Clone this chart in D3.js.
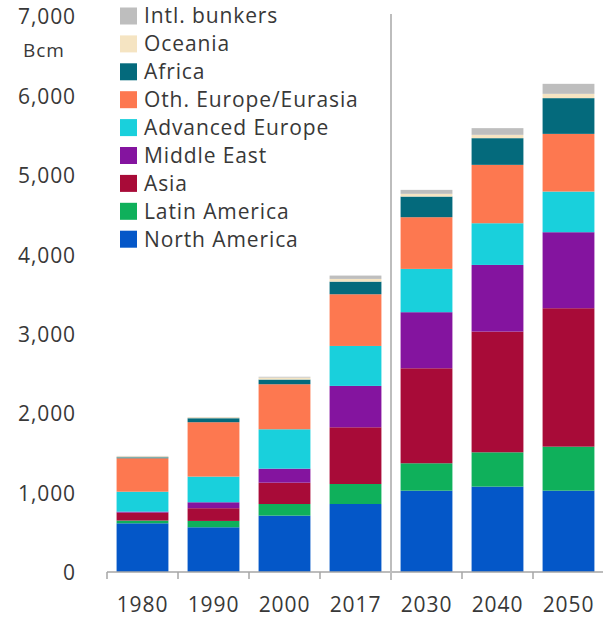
<!DOCTYPE html>
<html>
<head>
<meta charset="utf-8">
<script src="https://cdn.jsdelivr.net/npm/d3@7/dist/d3.min.js"></script>
<style>
  html, body { margin: 0; padding: 0; background: #fff; }
  svg { display: block; font-family: "Open Sans", "Noto Sans", sans-serif; }
</style>
</head>
<body>
<svg id="chart" width="603" height="618"></svg>
<script>
// Natural gas demand by region, billion cubic metres
const years = ["1980", "1990", "2000", "2017", "2030", "2040", "2050"];

const northAmerica   = [613, 563, 710, 856, 1024, 1075, 1024];
const latinAmerica   = [35, 80, 146, 252, 345, 432, 554];
const asia           = [100, 160, 269, 714, 1196, 1520, 1743];
const middleEast     = [12, 75, 176, 521, 706, 839, 957];
const advancedEurope = [251, 323, 496, 503, 545, 525, 512];
const othEurope      = [421, 685, 567, 651, 651, 735, 726];
const africa         = [12, 50, 59, 159, 260, 336, 450];
const oceania        = [12, 12, 25, 34, 34, 42, 54];
const intlBunkers    = [5, 3, 10, 42, 50, 84, 126];

const seriesNames = ["North America", "Latin America", "Asia", "Middle East",
  "Advanced Europe", "Oth. Europe/Eurasia", "Africa", "Oceania", "Intl. bunkers"];
const seriesValues = [northAmerica, latinAmerica, asia, middleEast,
  advancedEurope, othEurope, africa, oceania, intlBunkers];
const seriesColors = ["#0457c8", "#0fb05b", "#a80b38", "#84149f",
  "#19d0dc", "#fd7850", "#046a7c", "#f5e4c2", "#bebebe"];

const yTicks = [0, 1000, 2000, 3000, 4000, 5000, 6000, 7000];

const svg = d3.select("#chart");
const textColor = "#383838";
const fontSize = 21;
const spacing = "0.9px";

const rows = years.map((y, i) => {
  const r = { year: y };
  seriesNames.forEach((n, k) => { r[n] = seriesValues[k][i]; });
  return r;
});

const x = d3.scaleBand().domain(years).range([107, 604]).paddingInner(0.27).paddingOuter(0.135);
const y = d3.scaleLinear().domain([0, 7000]).range([572, 16]);

const stack = d3.stack().keys(seriesNames);
const layers = stack(rows);

// Stacked bars
svg.append("g").selectAll("g")
  .data(layers)
  .join("g")
  .attr("fill", (d, i) => seriesColors[i])
  .selectAll("rect")
  .data(d => d)
  .join("rect")
  .attr("x", d => x(d.data.year))
  .attr("width", x.bandwidth())
  .attr("y", d => y(d[1]))
  .attr("height", d => Math.max(0, y(d[0]) - y(d[1])));

// Y axis labels (no axis line)
const yAxis = svg.append("g")
  .attr("transform", "translate(76,1)")
  .call(d3.axisLeft(y).tickValues(yTicks).tickSize(0).tickPadding(0).tickFormat(d3.format(",")));
yAxis.select(".domain").remove();
yAxis.selectAll("text")
  .attr("font-size", fontSize)
  .attr("font-family", "\"Open Sans\", sans-serif")
  .attr("letter-spacing", spacing)
  .attr("fill", textColor);

svg.append("text")
  .attr("x", 23).attr("y", 57)
  .attr("font-size", 19)
  .attr("letter-spacing", spacing)
  .attr("fill", textColor)
  .text("Bcm");

// X axis: baseline with ticks at category boundaries
const xAxisG = svg.append("g").attr("transform", `translate(0,${y(0)})`);
xAxisG.append("line")
  .attr("x1", 107).attr("x2", 604)
  .attr("stroke", "#a6a6a6").attr("stroke-width", 1.5);
const step = x.step();
const boundaries = d3.range(years.length + 1).map(i => 107 + i * step);
xAxisG.selectAll("line.tick")
  .data(boundaries)
  .join("line")
  .attr("class", "tick")
  .attr("x1", d => d).attr("x2", d => d)
  .attr("y1", 0).attr("y2", 7)
  .attr("stroke", "#a6a6a6").attr("stroke-width", 1.5);
xAxisG.selectAll("text")
  .data(years)
  .join("text")
  .attr("x", d => x(d) + x.bandwidth() / 2)
  .attr("y", 40)
  .attr("text-anchor", "middle")
  .attr("font-size", fontSize)
  .attr("letter-spacing", spacing)
  .attr("fill", textColor)
  .text(d => d);

// Divider between history and projections
const divX = 107 + 4 * step;
svg.append("line")
  .attr("x1", divX).attr("x2", divX)
  .attr("y1", 14).attr("y2", 580)
  .attr("stroke", "#bdbdbd").attr("stroke-width", 2);

// Legend, top series first
const legendItems = seriesNames.map((n, i) => ({ name: n, color: seriesColors[i] })).reverse();
const legend = svg.append("g");
const item = legend.selectAll("g")
  .data(legendItems)
  .join("g")
  .attr("transform", (d, i) => `translate(120,${16 + i * 27.9})`);
item.append("rect")
  .attr("x", 0).attr("y", -8.5)
  .attr("width", 17).attr("height", 17)
  .attr("fill", d => d.color);
item.append("text")
  .attr("x", 24).attr("y", 0)
  .attr("dy", "0.35em")
  .attr("font-size", fontSize)
  .attr("letter-spacing", spacing)
  .attr("fill", textColor)
  .text(d => d.name);
</script>
</body>
</html>
